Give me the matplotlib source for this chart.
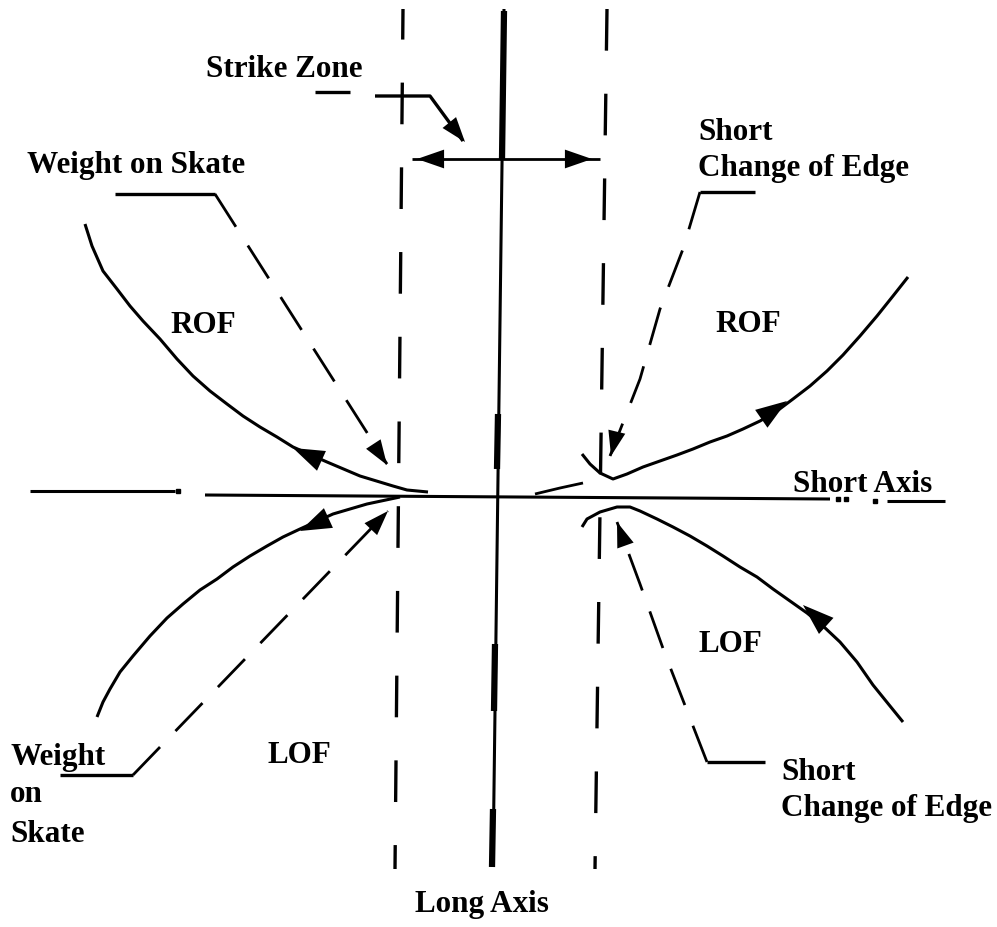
import matplotlib
matplotlib.use("Agg")
import matplotlib.pyplot as plt

# figure is drawn in pixel coordinates (x right, y down) of a 997x928 picture

# main axes
long_axis = [(504, 10), (493, 868)]
long_axis_thick = [[(504, 12), (502, 160)], [(498, 415), (497, 470)],
                   [(495, 645), (494, 712)], [(493, 810), (492, 868)]]
short_axis = [[(30, 492), (175, 492)], [(205, 496), (830, 500)], [(887, 502), (945, 502)]]
short_axis_dots = [(178, 492), (838, 500), (846, 500), (875, 502)]

# strike zone boundaries (dashed)
zone_left = [(403, 10), (395, 870)]
zone_right = [(607, 10), (595, 870)]
zone_width_y = 160
zone_width_x = [(412, 600)]

# skate tracings
rof_left = [(85, 225), (92, 247), (103, 272), (117, 290), (130, 307), (143, 322),
            (160, 340), (177, 360), (193, 377), (210, 392), (227, 405), (243, 417),
            (260, 428), (277, 438), (293, 448), (327, 463), (360, 477), (393, 487),
            (407, 491), (428, 493)]
lof_left = [(97, 718), (103, 703), (110, 690), (120, 673), (133, 657), (150, 637),
            (167, 619), (183, 605), (200, 591), (217, 580), (233, 568), (250, 557),
            (267, 547), (283, 538), (300, 530), (333, 515), (367, 505), (400, 498)]
rof_right = [(908, 278), (893, 297), (877, 317), (860, 337), (843, 356), (827, 372),
             (810, 387), (793, 400), (777, 412), (760, 422), (743, 430), (727, 437),
             (710, 443), (693, 450), (677, 456), (660, 462), (643, 468), (627, 475),
             (613, 480), (600, 474), (590, 465), (582, 455)]
lof_right = [(582, 528), (587, 520), (600, 513), (617, 508), (630, 508), (640, 512),
             (657, 520), (673, 528), (690, 537), (707, 547), (723, 557), (740, 568),
             (757, 578), (773, 590), (790, 602), (807, 614), (823, 627), (840, 643),
             (857, 663), (873, 686), (890, 707), (903, 723)]
center_kink = [(535, 495), (560, 489), (583, 484)]

# arrow heads on the tracings: (tip, tail)
track_heads = [((293, 449), (335, 468)), ((300, 532), (335, 516)),
               ((787, 402), (761, 420)), ((803, 606), (833, 633))]

# leaders from the labels
leader_strike_solid = [[(315, 93), (350, 93)], [(375, 97), (430, 97), (463, 142)]]
leader_ws_top = [(115, 195), (215, 195)]
leader_ws_top_dash = [(215, 195), (387, 465)]
leader_ws_bot = [(60, 776), (133, 776)]
leader_ws_bot_dash = [(133, 776), (388, 512)]
leader_sc_top = [(700, 193), (755, 193)]
leader_sc_top_dash = [(700, 193), (683, 250), (660, 310), (640, 380), (610, 457)]
leader_sc_bot = [(707, 763), (765, 763)]
leader_sc_bot_dash = [(707, 763), (665, 655), (640, 585), (617, 523)]
leader_heads = [((465, 143), (440, 112)), ((387, 466), (372, 443)),
                ((388, 512), (370, 531)), ((611, 457), (617, 432)),
                ((617, 523), (626, 548))]

# labels: (text, x, baseline y)
labels = [("Strike Zone", 206, 77), ("Weight on Skate", 27, 173),
          ("Short", 698, 140), ("Change of Edge", 698, 176),
          ("ROF", 170, 333), ("ROF", 715, 332),
          ("Short Axis", 793, 492),
          ("LOF", 698, 652), ("LOF", 267, 763),
          ("Weight", 10, 765), ("on", 10, 802), ("Skate", 10, 842),
          ("Short", 781, 780), ("Change of Edge", 781, 816),
          ("Long Axis", 415, 912)]


def line(ax, pts, lw=2.0, **kw):
    xs = [p[0] for p in pts]
    ys = [p[1] for p in pts]
    ax.plot(xs, ys, color="black", lw=lw, solid_capstyle="butt",
            solid_joinstyle="round", **kw)


def head(ax, tip, tail, size=26):
    ax.annotate("", xy=tip, xytext=tail,
                arrowprops=dict(arrowstyle="-|>,head_length=0.75,head_width=0.26",
                                color="black", lw=0, mutation_scale=size,
                                shrinkA=0, shrinkB=0))


def main():
    plt.rcParams["lines.scale_dashes"] = False
    fig = plt.figure(figsize=(9.97, 9.28), dpi=100)
    ax = fig.add_axes([0, 0, 1, 1])
    ax.set_xlim(0, 997)
    ax.set_ylim(928, 0)
    ax.axis("off")

    line(ax, long_axis, lw=2.2)
    for seg in long_axis_thick:
        line(ax, seg, lw=4.5)
    for seg in short_axis:
        line(ax, seg, lw=2.2)
    ax.plot([p[0] for p in short_axis_dots], [p[1] for p in short_axis_dots],
            "s", color="black", ms=2.5)

    line(ax, zone_left, lw=2.4, linestyle=(8, (30, 31)))
    line(ax, zone_right, lw=2.4, linestyle=(0, (30, 31)))
    for x0, x1 in zone_width_x:
        line(ax, [(x0, zone_width_y), (x1, zone_width_y)], lw=2.0)
        head(ax, (x0 + 5, zone_width_y), (x0 + 35, zone_width_y))
        head(ax, (x1 - 8, zone_width_y), (x1 - 38, zone_width_y))

    for pts in [rof_left, lof_left, rof_right, lof_right]:
        line(ax, pts, lw=2.2)
    line(ax, center_kink, lw=2.0)
    for tip, tail in track_heads:
        head(ax, tip, tail, size=30)

    lead = (0, (28, 16))
    for seg in leader_strike_solid:
        line(ax, seg, lw=2.4)
    line(ax, leader_ws_top, lw=2.4)
    line(ax, leader_ws_top_dash, lw=2.0, linestyle=lead)
    line(ax, leader_ws_bot, lw=2.4)
    line(ax, leader_ws_bot_dash, lw=2.0, linestyle=lead)
    line(ax, leader_sc_top, lw=2.4)
    line(ax, leader_sc_top_dash, lw=2.0, linestyle=lead)
    line(ax, leader_sc_bot, lw=2.4)
    line(ax, leader_sc_bot_dash, lw=2.0, linestyle=lead)
    for tip, tail in leader_heads:
        head(ax, tip, tail, size=24)

    for txt, x, y in labels:
        ax.text(x, y, txt, ha="left", va="baseline", fontsize=22.4,
                family="Liberation Serif", weight="bold")

    fig.savefig("out.png", dpi=100, facecolor="white")


main()
